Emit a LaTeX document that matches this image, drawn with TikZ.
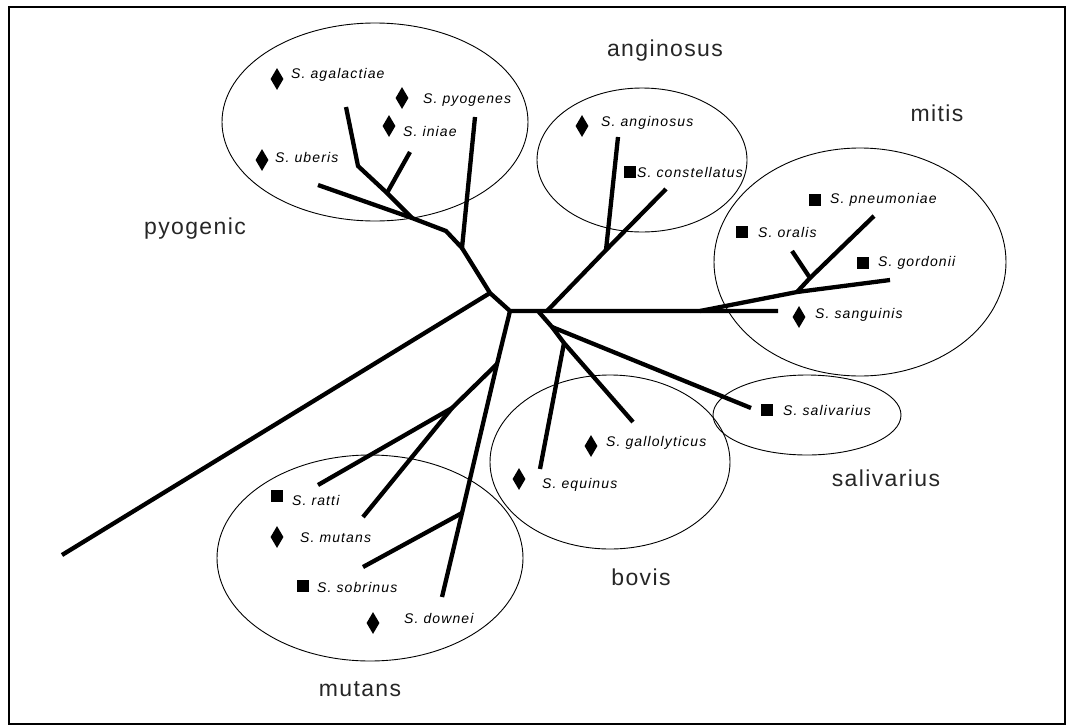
\documentclass[tikz,border=0pt]{standalone}
\usepackage{fontspec}
\setmainfont{Liberation Sans}
\newfontfamily\grpfont[LetterSpace=6]{Liberation Sans}
\newfontfamily\spfont[LetterSpace=8]{Liberation Sans}
\usetikzlibrary{shapes.geometric}

\tikzset{
  branch/.style={line width=4.3pt, line join=round},
  clade/.style={draw, ellipse, line width=0.9pt, inner sep=0pt},
  diam/.style={diamond, fill=black, minimum width=13, minimum height=22, inner sep=0pt},
  sq/.style={rectangle, fill=black, minimum size=12, inner sep=0pt},
  sp/.style={font=\spfont\itshape\fontsize{14}{16}\selectfont, anchor=west, inner sep=0pt},
  grp/.style={font=\grpfont\fontsize{23}{26}\selectfont, text=black!85, inner sep=0pt},
}

\begin{document}
\begin{tikzpicture}[x=1pt,y=-1pt]
\useasboundingbox (0,0) rectangle (1068,726);
\draw[line width=2.5pt] (9,7) rectangle (1065,724);

% group outlines
\node[clade, minimum width=306, minimum height=198] (epyo) at (375,122) {};
\node[clade, minimum width=210, minimum height=144] (eang) at (642,160) {};
\node[clade, minimum width=292, minimum height=228] (emit) at (860,262) {};
\node[clade, minimum width=188, minimum height=80]  (esal) at (807,415) {};
\node[clade, minimum width=240, minimum height=174] (ebov) at (610,462) {};
\node[clade, minimum width=306, minimum height=206] (emut) at (370,558) {};

% group names
\node[grp] (lpyo) at (195,229) {pyogenic};
\node[grp] (lang) at (665,51) {anginosus};
\node[grp] (lmit) at (937,113) {mitis};
\node[grp] (lsal) at (886,478) {salivarius};
\node[grp] (lbov) at (641,577) {bovis};
\node[grp] (lmut) at (360,689) {mutans};

% tree nodes
\coordinate (c0) at (510,311);
\coordinate (lj) at (490,293);
\coordinate (lend) at (62,555);
\coordinate (p0) at (462,248);
\coordinate (tpyo) at (475,117);
\coordinate (pU2) at (446,231);
\coordinate (pU) at (412,218);
\coordinate (tube) at (318,185);
\coordinate (pI) at (387,193);
\coordinate (pA) at (358,166);
\coordinate (taga) at (346,107);
\coordinate (tini) at (410,152);

\coordinate (h1) at (538,311);
\coordinate (h2) at (547,311);
\coordinate (hm) at (700,311);
\coordinate (hend) at (778,311);
\coordinate (aJ) at (606,250);
\coordinate (tcon) at (666,189);
\coordinate (tang) at (618,137);
\coordinate (mJ) at (797,292);
\coordinate (tgor) at (890,280);
\coordinate (mK) at (810,278);
\coordinate (tpne) at (874,216);
\coordinate (tora) at (792,251);

\coordinate (bS) at (552,327);
\coordinate (bE) at (564,343);
\coordinate (tgal) at (633,422);
\coordinate (tsal) at (751,408);
\coordinate (tequ) at (540,469);

\coordinate (mA) at (497,364);
\coordinate (mD) at (462,513);
\coordinate (tdow) at (442,597);
\coordinate (mF) at (452,408);
\coordinate (trat) at (318,485);
\coordinate (tmut) at (363,517);
\coordinate (tsob) at (363,567);

% branches
\draw[branch] (lend) -- (lj);
\draw[branch] (p0) -- (lj) -- (c0) -- (h1) -- (h2) -- (hm) -- (hend);
\draw[branch] (tpyo) -- (p0) -- (pU2) -- (pU) -- (tube);
\draw[branch] (pU) -- (pI) -- (pA) -- (taga);
\draw[branch] (pI) -- (tini);
\draw[branch] (h2) -- (aJ) -- (tcon);
\draw[branch] (aJ) -- (tang);
\draw[branch] (hm) -- (mJ) -- (tgor);
\draw[branch] (mJ) -- (mK) -- (tpne);
\draw[branch] (mK) -- (tora);
\draw[branch] (h1) -- (bS) -- (bE) -- (tgal);
\draw[branch] (bS) -- (tsal);
\draw[branch] (bE) -- (tequ);
\draw[branch] (c0) -- (mA) -- (mD) -- (tdow);
\draw[branch] (mA) -- (mF) -- (trat);
\draw[branch] (mF) -- (tmut);
\draw[branch] (mD) -- (tsob);

% species markers and names
\node[diam] (kaga) at (277,79) {};
\node[sp] (naga) at (291,75) {S. agalactiae};
\node[diam] (kpyo) at (402,98) {};
\node[sp] (npyo) at (423,100) {S. pyogenes};
\node[diam] (kini) at (389,126) {};
\node[sp] (nini) at (403,131) {S. iniae};
\node[diam] (kube) at (262,160) {};
\node[sp] (nube) at (275,157) {S. uberis};

\node[diam] (kang) at (582,126) {};
\node[sp] (nang) at (601,123) {S. anginosus};
\node[sq] (kcon) at (630,172) {};
\node[sp] (ncon) at (637,172) {S. constellatus};

\node[sq] (kpne) at (815,200) {};
\node[sp] (npne) at (830,200) {S. pneumoniae};
\node[sq] (kora) at (742,232) {};
\node[sp] (nora) at (758,232) {S. oralis};
\node[sq] (kgor) at (863,263) {};
\node[sp] (ngor) at (878,263) {S. gordonii};
\node[diam] (ksan) at (799,317) {};
\node[sp] (nsan) at (815,315) {S. sanguinis};

\node[sq] (ksal) at (767,410) {};
\node[sp] (nsal) at (783,410) {S. salivarius};
\node[diam] (kgal) at (591,446) {};
\node[sp] (ngal) at (606,443) {S. gallolyticus};
\node[diam] (kequ) at (519,479) {};
\node[sp] (nequ) at (542,485) {S. equinus};

\node[sq] (krat) at (277,496) {};
\node[sp] (nrat) at (292,500) {S. ratti};
\node[diam] (kmut) at (277,537) {};
\node[sp] (nmut) at (300,538) {S. mutans};
\node[sq] (ksob) at (303,586) {};
\node[sp] (nsob) at (317,587) {S. sobrinus};
\node[diam] (kdow) at (373,623) {};
\node[sp] (ndow) at (404,618) {S. downei};
\end{tikzpicture}
\end{document}
